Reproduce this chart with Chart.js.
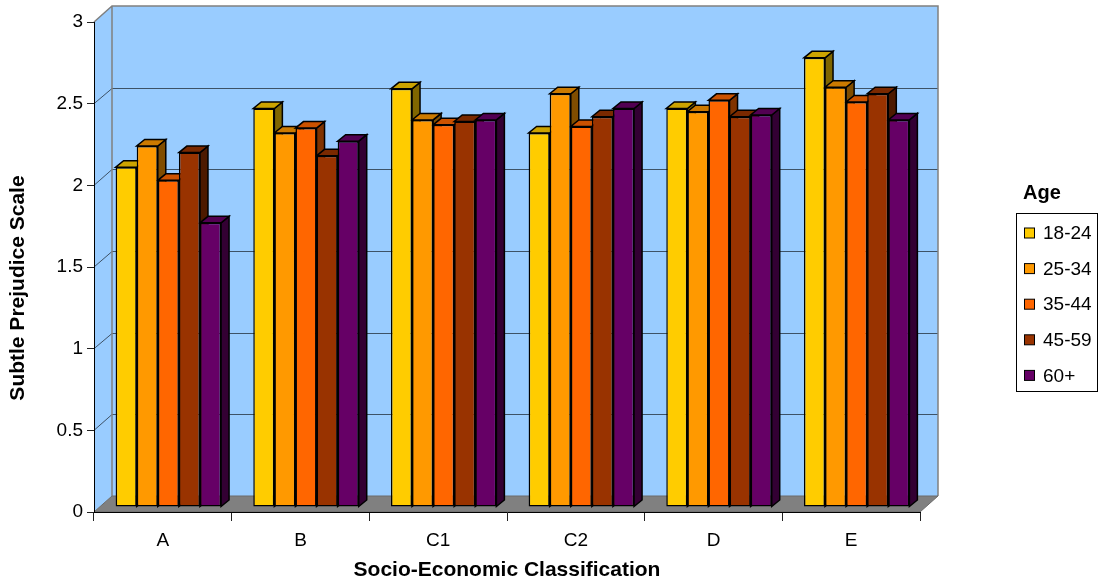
<!DOCTYPE html>
<html lang="en">
<head>
  <meta charset="UTF-8" />
  <title>Subtle Prejudice Scale by Socio-Economic Classification</title>
  <script src="https://cdn.jsdelivr.net/npm/chart.js"></script>
  <style>
    html, body { margin: 0; padding: 0; background: #fff; }
    #wrap { width: 1099px; height: 585px; }
  </style>
</head>
<body>
  <div id="wrap"><canvas id="prejudiceChart" width="1099" height="585"></canvas></div>

  <script>
// === Data ===
const categories = ["A", "B", "C1", "C2", "D", "E"];
const ageGroups = ["18-24", "25-34", "35-44", "45-59", "60+"];
const age18to24 = [2.08, 2.44, 2.56, 2.29, 2.44, 2.75];
const age25to34 = [2.21, 2.29, 2.37, 2.53, 2.42, 2.57];
const age35to44 = [2.00, 2.32, 2.34, 2.33, 2.49, 2.48];
const age45to59 = [2.17, 2.15, 2.36, 2.39, 2.39, 2.53];
const age60plus = [1.74, 2.24, 2.37, 2.44, 2.40, 2.37];
const seriesColors = ["#ffcc00", "#ff9900", "#ff6600", "#993300", "#660066"];
const yTickLabels = ["0", "0.5", "1", "1.5", "2", "2.5", "3"];
const xTitle = "Socio-Economic Classification";
const yTitle = "Subtle Prejudice Scale";
const legendTitle = "Age";

const FONT = "'Liberation Sans', Arial, sans-serif";

// depth of the walls, offset of the bar front plane, depth of the bars
const DX = 18, DY = -16;
const BX = 5.5, BY = -5;
const BDX = 8, BDY = -6.5;

function shade(hex, f) {
  const n = parseInt(hex.slice(1), 16);
  const r = Math.round(((n >> 16) & 255) * f);
  const g = Math.round(((n >> 8) & 255) * f);
  const b = Math.round((n & 255) * f);
  return "rgb(" + r + "," + g + "," + b + ")";
}

function poly(ctx, pts, fill, stroke, lw) {
  ctx.beginPath();
  ctx.moveTo(pts[0][0], pts[0][1]);
  for (let i = 1; i < pts.length; i++) ctx.lineTo(pts[i][0], pts[i][1]);
  ctx.closePath();
  if (fill) { ctx.fillStyle = fill; ctx.fill(); }
  if (stroke) { ctx.strokeStyle = stroke; ctx.lineWidth = lw || 1; ctx.stroke(); }
}

// === 3D walls, floor, bar tops and sides, legend ===
const box3d = {
  id: "box3d",
  beforeDraw(chart) {
    const { ctx, chartArea: a, scales: { y } } = chart;
    const L = a.left, R = a.right, T = a.top, B = a.bottom;
    ctx.save();
    // left wall + back wall
    poly(ctx, [[L, T], [L + DX, T + DY], [L + DX, B + DY], [L, B]], "#99ccff");
    poly(ctx, [[L + DX, T + DY], [R + DX, T + DY], [R + DX, B + DY], [L + DX, B + DY]], "#99ccff");

    // grid lines on the walls
    ctx.strokeStyle = "rgba(0,0,0,0.6)";
    ctx.lineWidth = 1;
    y.ticks.forEach(t => {
      if (t.value <= y.min || t.value >= y.max) return;
      const py = y.getPixelForValue(t.value);
      const by = Math.round(py + DY) + 0.5;
      ctx.beginPath();
      ctx.moveTo(L, py);
      ctx.lineTo(L + DX, by);
      ctx.lineTo(R + DX, by);
      ctx.stroke();
    });

    // wall edges
    ctx.strokeStyle = "#808080";
    ctx.lineWidth = 1.5;
    ctx.beginPath();
    ctx.moveTo(L, T);
    ctx.lineTo(L + DX, T + DY);
    ctx.lineTo(R + DX, T + DY);
    ctx.lineTo(R + DX, B + DY);
    ctx.moveTo(L + DX, T + DY);
    ctx.lineTo(L + DX, B + DY);
    ctx.stroke();

    // floor
    poly(ctx, [[L, B], [R, B], [R + DX, B + DY], [L + DX, B + DY]], "#808080", "#6a6a6a", 1);
    ctx.restore();
  },
  beforeDatasetsDraw(chart) {
    const { ctx } = chart;
    ctx.save();
    ctx.translate(BX, BY);
    const metas = chart.data.datasets.map((d, i) => chart.getDatasetMeta(i));
    for (let j = 0; j < categories.length; j++) {
      metas.forEach((meta, i) => {
        const bar = meta.data[j];
        const p = bar.getProps(["x", "y", "base", "width"], true);
        const l = p.x - p.width / 2, r = p.x + p.width / 2;
        const col = seriesColors[i];
        // side
        poly(ctx, [[r, p.y], [r + BDX, p.y + BDY], [r + BDX, p.base + BDY], [r, p.base]],
          shade(col, 0.5), "#000", 1.5);
        // top
        poly(ctx, [[l, p.y], [r, p.y], [r + BDX, p.y + BDY], [l + BDX, p.y + BDY]],
          shade(col, 0.8), "#000", 1.5);
      });
    }
    // front faces are drawn by Chart.js in this shifted plane
  },
  afterDatasetsDraw(chart) {
    chart.ctx.restore();
  },
  afterDraw(chart) {
    const { ctx } = chart;
    ctx.save();
    // y axis title
    ctx.fillStyle = "#000";
    ctx.font = "bold 21px " + FONT;
    ctx.textAlign = "center";
    ctx.textBaseline = "middle";
    ctx.translate(18, 288);
    ctx.rotate(-Math.PI / 2);
    ctx.fillText(yTitle, 0, 0);
    ctx.restore();

    // legend
    ctx.save();
    ctx.fillStyle = "#000";
    ctx.font = "bold 20px " + FONT;
    ctx.textAlign = "center";
    ctx.textBaseline = "middle";
    ctx.fillText(legendTitle, 1042, 193);
    ctx.strokeStyle = "#000";
    ctx.lineWidth = 1;
    ctx.strokeRect(1016.5, 213.5, 81, 178);
    ctx.font = "19px " + FONT;
    ctx.textAlign = "left";
    chart.data.datasets.forEach((ds, i) => {
      const cy = 233 + i * 35.6;
      ctx.fillStyle = ds.backgroundColor;
      ctx.fillRect(1024.5, cy - 5, 10, 10);
      ctx.strokeRect(1024.5, cy - 5, 10, 10);
      ctx.fillStyle = "#000";
      ctx.fillText(ds.label, 1043, cy + 1);
    });
    ctx.restore();
  }
};

const seriesValues = [age18to24, age25to34, age35to44, age45to59, age60plus];

new Chart(document.getElementById("prejudiceChart"), {
  type: "bar",
  data: {
    labels: categories,
    datasets: ageGroups.map((g, i) => ({
      label: g,
      data: seriesValues[i],
      backgroundColor: seriesColors[i],
      borderColor: "#000",
      borderWidth: 1.5,
      borderSkipped: false,
      categoryPercentage: 0.766,
      barPercentage: 1,
      clip: false
    }))
  },
  options: {
    responsive: false,
    animation: false,
    devicePixelRatio: 1,
    layout: { padding: { top: 22, right: 179, bottom: 0, left: 0 } },
    plugins: { legend: { display: false }, tooltip: { enabled: false } },
    scales: {
      x: {
        offset: true,
        grid: { offset: true, drawOnChartArea: false, drawTicks: true, tickLength: 9, color: "#222" },
        border: { color: "#000", width: 1 },
        ticks: { color: "#000", font: { family: FONT, size: 19 }, padding: 8, maxRotation: 0, autoSkip: false },
        title: {
          display: true, text: xTitle, color: "#000",
          font: { family: FONT, size: 21, weight: "bold" },
          padding: { top: 0, bottom: 2 }
        },
        afterFit(s) { s.height = 73; }
      },
      y: {
        min: 0,
        max: 3,
        grid: { drawOnChartArea: false, tickLength: 7, color: "#222" },
        border: { color: "#000", width: 1 },
        ticks: {
          stepSize: 0.5,
          color: "#000",
          font: { family: FONT, size: 19 },
          padding: 4,
          callback: (v, i) => yTickLabels[i]
        },
        afterFit(s) { s.width = 94; }
      }
    }
  },
  plugins: [box3d]
});
  </script>
</body>
</html>
